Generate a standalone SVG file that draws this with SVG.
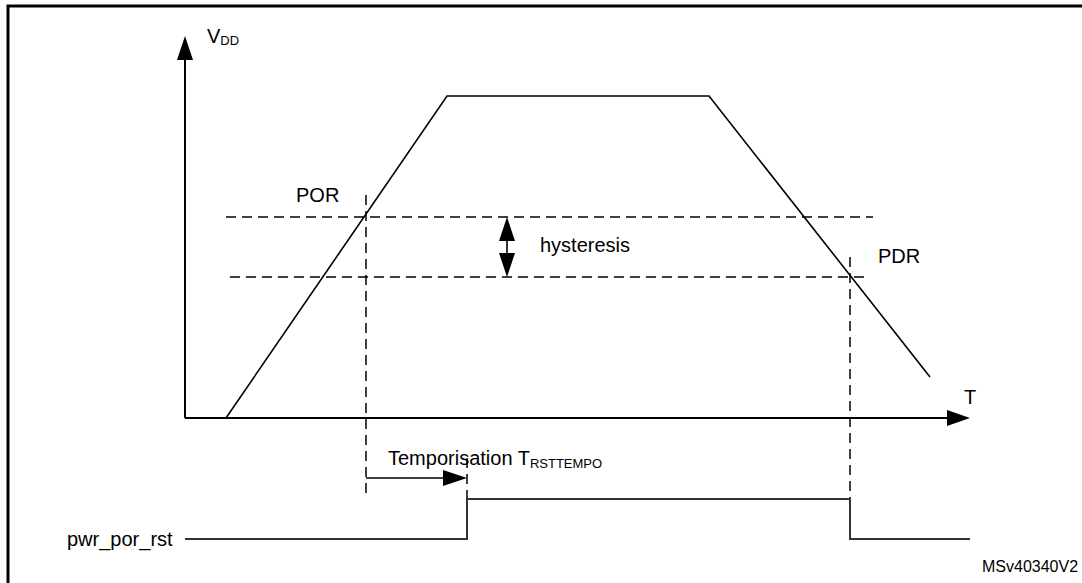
<svg xmlns="http://www.w3.org/2000/svg" width="1082" height="583" viewBox="0 0 1082 583">
<style>
text{font-family:"Liberation Sans",Arial,sans-serif;fill:#000}
.lbl{font-size:20px}
.sub{font-size:13px}
.ln{stroke:#000;stroke-width:1.6;fill:none}
.ax{stroke:#000;stroke-width:2;fill:none}
.dash{stroke:#000;stroke-width:1.5;fill:none;stroke-dasharray:10 6}
.wave{stroke:#333;stroke-width:2;fill:none}
.head{fill:#000}
</style>
<g id="frame">
<path d="M8,583 V6 H1082" fill="none" stroke="#000" stroke-width="3"/>
</g>
<g id="axes">
<line class="ax" x1="185" y1="418" x2="185" y2="58"/>
<polygon class="head" points="185,36 177,60 193,60"/>
<line class="ax" x1="185" y1="418" x2="950" y2="418"/>
<polygon class="head" points="970,418 947,410 947,426"/>
<text class="lbl" x="207" y="43">V<tspan class="sub" dy="2">DD</tspan></text>
<text class="lbl" x="964" y="404">T</text>
</g>
<g id="vdd-curve">
<polyline class="ln" points="226,418 447,96 709,96 930,377"/>
</g>
<g id="thresholds">
<line class="dash" x1="226" y1="217" x2="873" y2="217"/>
<line class="dash" x1="230" y1="277" x2="865" y2="277"/>
<text id="por" class="lbl" x="296" y="202">POR</text>
<text id="pdr" class="lbl" x="878" y="263">PDR</text>
</g>
<g id="hysteresis">
<line class="ln" x1="507" y1="240" x2="507" y2="254"/>
<polygon class="head" points="507,217 499,241 515,241"/>
<polygon class="head" points="507,277 499,253 515,253"/>
<text class="lbl" x="540" y="252">hysteresis</text>
</g>
<g id="connectors">
<line class="dash" x1="366" y1="195" x2="366" y2="493"/>
<line class="dash" x1="850" y1="257" x2="850" y2="498"/>
<line class="dash" x1="467" y1="458" x2="467" y2="498"/>
<line class="ln" x1="366" y1="478" x2="446" y2="478"/>
<polygon class="head" points="467,478 443,470 443,486"/>
</g>
<g id="temporisation">
<text class="lbl" x="388" y="465">Temporisation T<tspan class="sub" dy="3">RSTTEMPO</tspan></text>
</g>
<g id="pwr_por_rst">
<polyline class="wave" points="185,539 467,539 467,499 850,499 850,539 970,539"/>
<text class="lbl" x="67" y="546">pwr_por_rst</text>
</g>
<text x="982" y="572" font-size="16px">MSv40340V2</text>
</svg>
